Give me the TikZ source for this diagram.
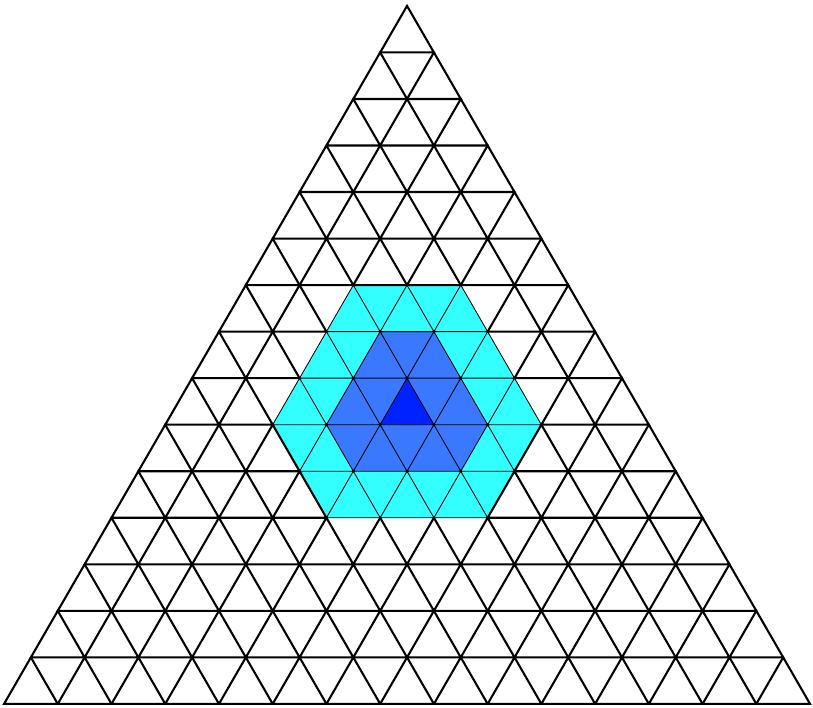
\documentclass[tikz,border=0pt]{standalone}
\usepackage{tikz}
\usepackage{xcolor}
\definecolor{CellCyan}{HTML}{33FFFF}
\definecolor{CellBlue}{HTML}{3A78FF}
\definecolor{CellDark}{HTML}{0022FF}
\tikzset{
  gridline/.style={draw=black, line width=1.1pt},
  innerline/.style={draw=black, line width=0.45pt},
  vertexdot/.style={fill=black}
}
\begin{document}
\begin{tikzpicture}[x=1cm, y=0.866cm]
    \useasboundingbox (-0.075cm,-0.075cm) rectangle (15.055cm,13.10cm);
    \fill[CellCyan] (6.5,9) -- (8.5,9) -- (10,6) -- (9,4) -- (6,4) -- (5,6) -- cycle;
    \fill[CellBlue] (7,8) -- (8,8) -- (9,6) -- (8.5,5) -- (6.5,5) -- (6,6) -- cycle;
    \fill[CellDark] (7,6) -- (8,6) -- (7.5,7) -- cycle;

    \foreach \r in {0,...,14}{
      \pgfmathtruncatemacro{\jmax}{14-\r}
      \foreach \j in {0,...,\jmax}{
        \pgfmathtruncatemacro{\d}{abs(\j-4)+abs(\r-6)+abs(10-\r-\j)}
        \ifnum\d>4
          \draw[gridline] (\j+\r/2,\r) -- ++(1,0) -- ++(-0.5,1) -- cycle;
        \else
          \draw[innerline] (\j+\r/2,\r) -- ++(1,0) -- ++(-0.5,1) -- cycle;
        \fi
      }
    }

    \foreach \p in {(7,8),(8,8),(9,6),(8.5,5),(6.5,5),(6,6),(7,6),(8,6),(7.5,7),(6.5,7),(8.5,7),(7.5,5)}
      \fill[vertexdot] \p circle (0.032cm);
\end{tikzpicture}
\end{document}
